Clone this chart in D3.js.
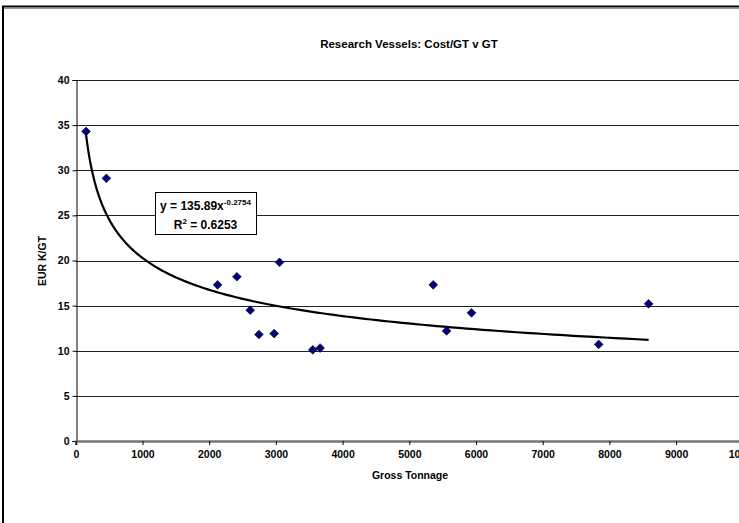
<!DOCTYPE html>
<html>
<head>
<meta charset="utf-8">
<script src="https://cdn.jsdelivr.net/npm/d3@7/dist/d3.min.js"></script>
<style>
  html, body { margin: 0; padding: 0; background: #fff; }
  svg { display: block; }
  text { font-family: "Liberation Sans", Arial, sans-serif; font-weight: bold; fill: #000; }
</style>
</head>
<body>
<svg id="chart" width="739" height="523"></svg>
<script>
// ---- data ----
const grossTonnage = [154, 459, 2126, 2415, 2615, 2745, 2974, 3054, 3553, 3663, 5359, 5559, 5933, 7839, 8588];
const costPerGT    = [34.3, 29.1, 17.3, 18.2, 14.5, 11.8, 11.9, 19.8, 10.1, 10.3, 17.3, 12.2, 14.2, 10.7, 15.2];
const xTicks = [0, 1000, 2000, 3000, 4000, 5000, 6000, 7000, 8000, 9000, 10000];
const yTicks = [0, 5, 10, 15, 20, 25, 30, 35, 40];
const trendCoef = 135.89, trendExp = -0.2754, trendR2 = 0.6253;
const titleText = "Research Vessels: Cost/GT v GT";
const xLabel = "Gross Tonnage";
const yLabel = "EUR K/GT";

const svg = d3.select("#chart");
const W = 739, H = 523;

// outer chart frame
svg.append("rect").attr("x", 3).attr("y", 6.5).attr("width", 900).attr("height", 600)
  .attr("fill", "#fff").attr("stroke", "#000").attr("stroke-width", 2);
svg.append("line").attr("x1", 4).attr("x2", W).attr("y1", 8.5).attr("y2", 8.5)
  .attr("stroke", "#999").attr("stroke-width", 1);

const x = d3.scaleLinear().domain([0, 10000]).range([75.8, 742.8]);
const y = d3.scaleLinear().domain([0, 40]).range([441, 80]);

// gridlines
svg.append("g").selectAll("line").data(yTicks.filter(d => d > 0)).join("line")
  .attr("x1", x(0)).attr("x2", x(10000))
  .attr("y1", d => Math.round(y(d)) + 0.5).attr("y2", d => Math.round(y(d)) + 0.5)
  .attr("stroke", "#222").attr("stroke-width", 1);

// y axis
const yAxis = d3.axisLeft(y).tickValues(yTicks).tickSize(4).tickPadding(3).tickFormat(d3.format("d"));
const gy = svg.append("g").attr("transform", `translate(${Math.round(x(0)) + 0.5},0)`).call(yAxis);
gy.select(".domain").attr("stroke", "#000").attr("stroke-width", 1);
gy.selectAll(".tick line").attr("stroke", "#000");
gy.selectAll(".tick text").style("font-size", "10.5px").style("font-family", "'Liberation Sans', Arial, sans-serif").style("font-weight", "bold");

// x axis
const xAxis = d3.axisBottom(x).tickValues(xTicks).tickSize(4).tickPadding(6).tickFormat(d3.format("d"));
const gx = svg.append("g").attr("transform", `translate(0,${y(0)})`).call(xAxis);
gx.select(".domain").attr("stroke", "#777").attr("stroke-width", 2.5);
gx.selectAll(".tick line").attr("stroke", "#000").attr("stroke-width", 1);
gx.selectAll(".tick text").style("font-size", "10.5px").style("font-family", "'Liberation Sans', Arial, sans-serif").style("font-weight", "bold");

// trendline (power fit reported in the chart)
const trendX = d3.range(0, 201).map(i => d3.min(grossTonnage) * Math.pow(d3.max(grossTonnage) / d3.min(grossTonnage), i / 200));
const line = d3.line().x(d => x(d)).y(d => y(trendCoef * Math.pow(d, trendExp))).curve(d3.curveLinear);
svg.append("path").datum(trendX).attr("d", line)
  .attr("fill", "none").attr("stroke", "#000").attr("stroke-width", 2.2);

// points (diamonds)
svg.append("g").selectAll("path").data(grossTonnage.map((g, i) => [g, costPerGT[i]])).join("path")
  .attr("d", d3.symbol().type(d3.symbolSquare).size(38))
  .attr("transform", d => `translate(${x(d[0])},${y(d[1])}) rotate(45)`)
  .attr("fill", "#000080").attr("stroke", "#000").attr("stroke-width", 0.6);

// equation box
const box = svg.append("g");
box.append("rect").attr("x", 155.5).attr("y", 192.5).attr("width", 101).attr("height", 42)
  .attr("fill", "#fff").attr("stroke", "#000").attr("stroke-width", 1);
const t1 = box.append("text").attr("x", 205.5).attr("y", 210).attr("text-anchor", "middle").style("font-size", "12px");
t1.append("tspan").text("y = " + trendCoef.toFixed(2) + "x");
t1.append("tspan").attr("dy", -5).style("font-size", "8px").text(trendExp.toString());
const t2 = box.append("text").attr("x", 205.5).attr("y", 229).attr("text-anchor", "middle").style("font-size", "12px");
t2.append("tspan").text("R");
t2.append("tspan").attr("dy", -5).style("font-size", "8px").text("2");
t2.append("tspan").attr("dy", 5).text(" = " + trendR2.toFixed(4));

// title and axis labels
svg.append("text").attr("x", 409).attr("y", 48).attr("text-anchor", "middle").style("font-size", "11.5px").text(titleText);
svg.append("text").attr("x", 410).attr("y", 479).attr("text-anchor", "middle").style("font-size", "10.5px").text(xLabel);
svg.append("text").attr("transform", "translate(46,261) rotate(-90)").attr("text-anchor", "middle").style("font-size", "10.5px").text(yLabel);
</script>
</body>
</html>
